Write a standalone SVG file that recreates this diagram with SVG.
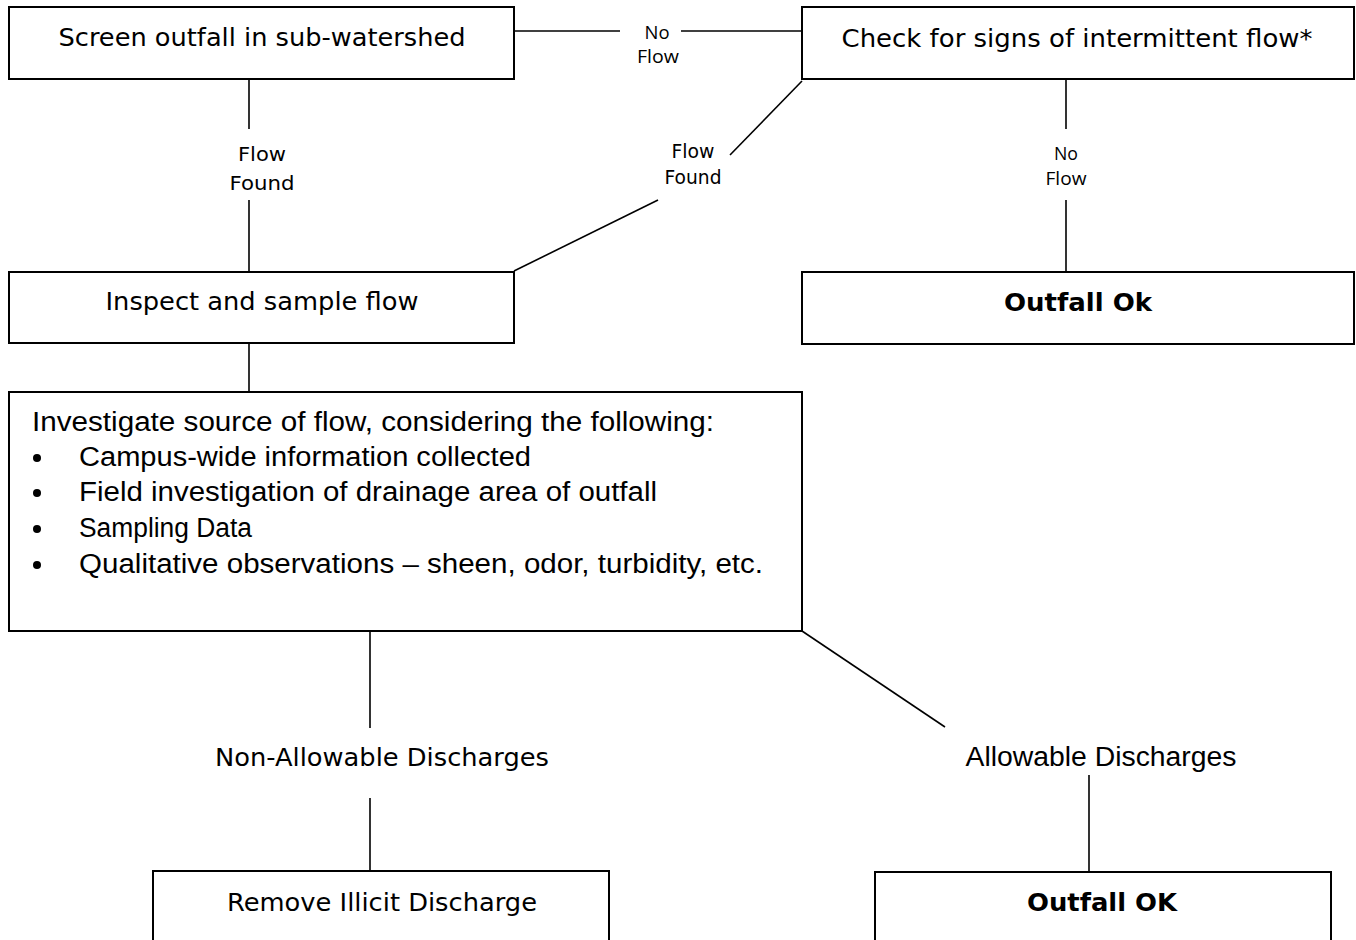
<svg xmlns="http://www.w3.org/2000/svg" width="1356" height="940" viewBox="0 0 1356 940">
<style>
.box{fill:#fff;stroke:#000;stroke-width:2}
.ln{stroke:#000;stroke-width:1.6;fill:none}
.t{font-family:"DejaVu Sans",Verdana,sans-serif;font-size:25px;fill:#000}
.b{font-family:"DejaVu Sans",Verdana,sans-serif;font-size:25px;font-weight:bold;fill:#000}
.n{font-family:"Liberation Sans",Arial,sans-serif;font-size:27px;fill:#000}
.s{font-family:"DejaVu Sans",Verdana,sans-serif;font-size:20px;fill:#000}
.c{font-family:"Open Sans","Noto Sans",sans-serif;font-size:18px;fill:#000}
</style>
<rect width="1356" height="940" fill="#fff"/>
<g id="connectors">
<line class="ln" x1="514" y1="31" x2="620" y2="31"/>
<line class="ln" x1="681" y1="31" x2="802" y2="31"/>
<line class="ln" x1="249" y1="79" x2="249" y2="129"/>
<line class="ln" x1="249" y1="200" x2="249" y2="272"/>
<line class="ln" x1="802" y1="81" x2="730" y2="155"/>
<line class="ln" x1="658" y1="200" x2="514" y2="271"/>
<line class="ln" x1="1066" y1="79" x2="1066" y2="129"/>
<line class="ln" x1="1066" y1="200" x2="1066" y2="272"/>
<line class="ln" x1="249" y1="343" x2="249" y2="392"/>
<line class="ln" x1="370" y1="631" x2="370" y2="728"/>
<line class="ln" x1="370" y1="798" x2="370" y2="871"/>
<line class="ln" x1="802" y1="631" x2="945" y2="727"/>
<line class="ln" x1="1089" y1="775" x2="1089" y2="872"/>
<text class="c" x="657" y="39" text-anchor="middle" textLength="25" lengthAdjust="spacingAndGlyphs">No</text>
<text class="c" x="658" y="63" text-anchor="middle" textLength="42" lengthAdjust="spacingAndGlyphs">Flow</text>
<text class="s" x="262" y="161" text-anchor="middle" textLength="48" lengthAdjust="spacingAndGlyphs">Flow</text>
<text class="s" x="262" y="190" text-anchor="middle" textLength="65" lengthAdjust="spacingAndGlyphs">Found</text>
<text class="s" x="693" y="158" text-anchor="middle" textLength="43" lengthAdjust="spacingAndGlyphs">Flow</text>
<text class="s" x="693" y="184" text-anchor="middle" textLength="57" lengthAdjust="spacingAndGlyphs">Found</text>
<text class="c" x="1066" y="160" text-anchor="middle" textLength="24" lengthAdjust="spacingAndGlyphs">No</text>
<text class="c" x="1066" y="185" text-anchor="middle" textLength="41" lengthAdjust="spacingAndGlyphs">Flow</text>
<text class="t" x="382" y="766" text-anchor="middle" textLength="334" lengthAdjust="spacingAndGlyphs">Non-Allowable Discharges</text>
<text class="n" x="1101" y="766" text-anchor="middle" textLength="271" lengthAdjust="spacingAndGlyphs">Allowable Discharges</text>
</g>
<g id="screen">
<rect class="box" x="9" y="7" width="505" height="72"/>
<text class="t" x="262" y="46" text-anchor="middle" textLength="407" lengthAdjust="spacingAndGlyphs">Screen outfall in sub-watershed</text>
</g>
<g id="check">
<rect class="box" x="802" y="7" width="552" height="72"/>
<text class="t" x="1077" y="47" text-anchor="middle" textLength="471" lengthAdjust="spacingAndGlyphs">Check for signs of intermittent flow*</text>
</g>
<g id="inspect">
<rect class="box" x="9" y="272" width="505" height="71"/>
<text class="t" x="262" y="310" text-anchor="middle" textLength="313" lengthAdjust="spacingAndGlyphs">Inspect and sample flow</text>
</g>
<g id="outfall-ok-1">
<rect class="box" x="802" y="272" width="552" height="72"/>
<text class="b" x="1078" y="311" text-anchor="middle" textLength="148" lengthAdjust="spacingAndGlyphs">Outfall Ok</text>
</g>
<g id="investigate">
<rect class="box" x="9" y="392" width="793" height="239"/>
<text class="n" x="32" y="431" textLength="682" lengthAdjust="spacingAndGlyphs">Investigate source of flow, considering the following:</text>
<circle cx="37" cy="458" r="4"/>
<circle cx="37" cy="493" r="4"/>
<circle cx="37" cy="529" r="4"/>
<circle cx="37" cy="565" r="4"/>
<text class="n" x="79" y="466" textLength="452" lengthAdjust="spacingAndGlyphs">Campus-wide information collected</text>
<text class="n" x="79" y="501" textLength="578" lengthAdjust="spacingAndGlyphs">Field investigation of drainage area of outfall</text>
<text class="n" x="79" y="537" textLength="173" lengthAdjust="spacingAndGlyphs">Sampling Data</text>
<text class="n" x="79" y="573" textLength="684" lengthAdjust="spacingAndGlyphs">Qualitative observations – sheen, odor, turbidity, etc.</text>
</g>
<g id="remove">
<rect class="box" x="153" y="871" width="456" height="80"/>
<text class="t" x="382" y="911" text-anchor="middle" textLength="310" lengthAdjust="spacingAndGlyphs">Remove Illicit Discharge</text>
</g>
<g id="outfall-ok-2">
<rect class="box" x="875" y="872" width="456" height="80"/>
<text class="b" x="1102" y="911" text-anchor="middle" textLength="150" lengthAdjust="spacingAndGlyphs">Outfall OK</text>
</g>
</svg>
